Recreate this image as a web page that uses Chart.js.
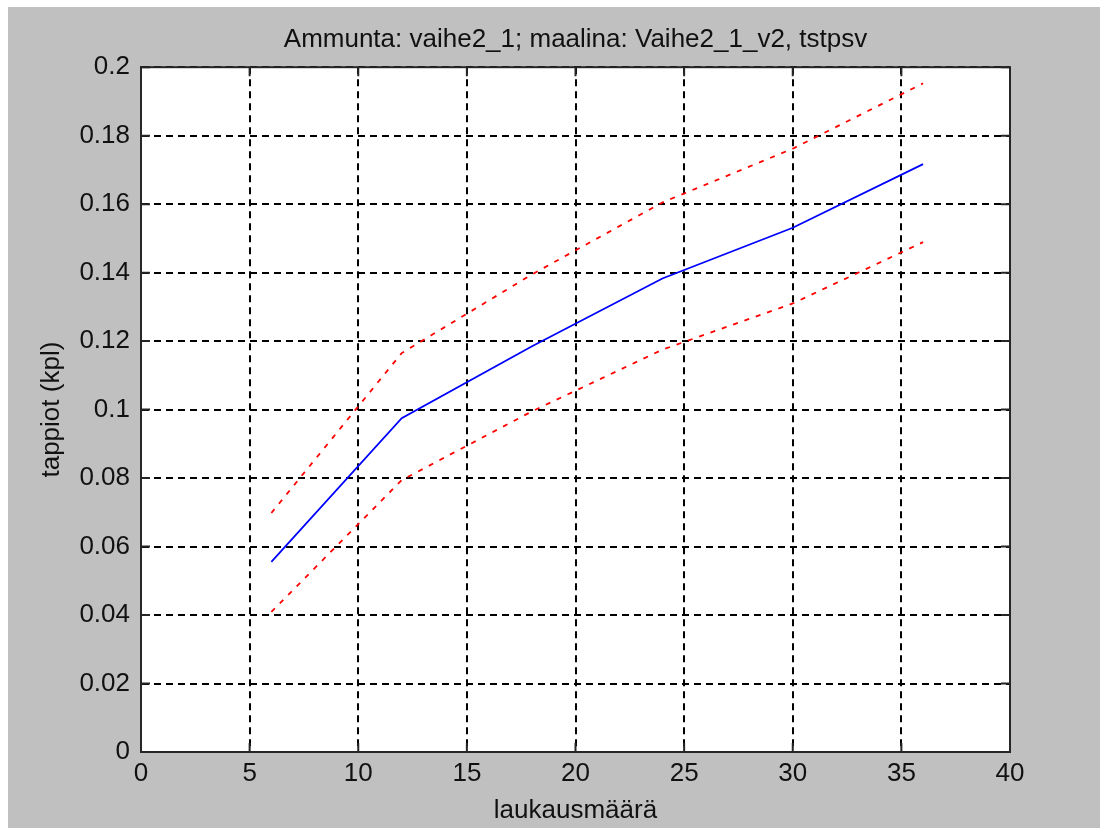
<!DOCTYPE html>
<html>
<head>
<meta charset="utf-8">
<script src="https://cdn.jsdelivr.net/npm/chart.js@4"></script>
<style>
  body { margin: 0; background: #fff; }
  canvas { display: block; }
</style>
</head>
<body>
<canvas id="myChart" width="1100" height="828"></canvas>
<script>
// values
const shots = [6, 12, 18, 24, 30, 36]
const lossMean = [0.0555, 0.0975, 0.1185, 0.1383, 0.1531, 0.1717]
const lossUpper = [0.0698, 0.1165, 0.1395, 0.1605, 0.1762, 0.1953]
const lossLower = [0.0409, 0.0794, 0.0995, 0.1175, 0.1310, 0.1489]

const titleText = 'Ammunta: vaihe2_1; maalina: Vaihe2_1_v2, tstpsv'
const xTitle = 'laukausmäärä'
const yTitle = 'tappiot (kpl)'

const fontFam = '"Liberation Sans", Arial, Helvetica, sans-serif'
const ctx = document.getElementById('myChart')

function pts(ys) {
  return shots.map((x, i) => ({x: x, y: ys[i]}))
}

// gray figure background, white axes box, frame and inward tick marks
const matlabLook = {
  id: 'matlabLook',
  afterLayout(chart) {
    // center the title over the axes box, not the whole canvas
    const tb = chart.titleBlock
    if (tb) {
      tb.left = chart.chartArea.left
      tb.right = chart.chartArea.right
      tb.width = tb.right - tb.left
    }
  },
  beforeDraw(chart) {
    const c = chart.ctx
    const a = chart.chartArea
    c.save()
    c.fillStyle = '#ffffff'
    c.fillRect(0, 0, chart.width, chart.height)
    c.fillStyle = '#c0c0c0'
    c.fillRect(8, 7, chart.width - 8, chart.height - 7)
    c.fillStyle = '#ffffff'
    c.fillRect(a.left, a.top, a.right - a.left, a.bottom - a.top)
    c.restore()
  },
  afterDraw(chart) {
    const c = chart.ctx
    const a = chart.chartArea
    const xs = chart.scales.x
    const ys = chart.scales.y
    const tl = 9
    c.save()
    c.strokeStyle = '#262626'
    c.lineWidth = 2
    c.beginPath()
    for (const t of xs.ticks) {
      const px = xs.getPixelForValue(t.value)
      c.moveTo(px, a.bottom); c.lineTo(px, a.bottom - tl)
      c.moveTo(px, a.top); c.lineTo(px, a.top + tl)
    }
    for (const t of ys.ticks) {
      const py = ys.getPixelForValue(t.value)
      c.moveTo(a.left, py); c.lineTo(a.left + tl, py)
      c.moveTo(a.right, py); c.lineTo(a.right - tl, py)
    }
    c.stroke()
    c.strokeRect(a.left, a.top, a.right - a.left, a.bottom - a.top)
    c.restore()
  }
}

new Chart(ctx, {
  type: 'line',
  data: {
    datasets: [
      {
        label: 'mean',
        data: pts(lossMean),
        borderColor: '#0000ff',
        borderWidth: 1.8,
        pointRadius: 0,
        tension: 0
      },
      {
        label: 'upper',
        data: pts(lossUpper),
        borderColor: '#ff0000',
        borderWidth: 1.8,
        borderDash: [5, 7],
        pointRadius: 0,
        tension: 0
      },
      {
        label: 'lower',
        data: pts(lossLower),
        borderColor: '#ff0000',
        borderWidth: 1.8,
        borderDash: [5, 7],
        pointRadius: 0,
        tension: 0
      }
    ]
  },
  plugins: [matlabLook],
  options: {
    responsive: false,
    animation: false,
    devicePixelRatio: 1,
    layout: {padding: {left: 0, right: 90, top: 0, bottom: 0}},
    plugins: {
      legend: {display: false},
      tooltip: {enabled: false},
      title: {
        display: true,
        text: titleText,
        color: '#111',
        font: {family: fontFam, size: 26, weight: 'normal'},
        padding: {top: 24, bottom: 12}
      }
    },
    scales: {
      x: {
        type: 'linear',
        min: 0,
        max: 40,
        afterFit(scale) { scale.height = 76 },
        ticks: {
          stepSize: 5,
          color: '#111',
          padding: 6,
          font: {family: fontFam, size: 26}
        },
        grid: {
          color: '#000',
          lineWidth: 2,
          drawTicks: false
        },
        border: {display: true, color: '#262626', width: 2, dash: [7, 5]},
        title: {
          display: true,
          text: xTitle,
          color: '#111',
          font: {family: fontFam, size: 26},
          padding: {top: 0, bottom: 2}
        }
      },
      y: {
        min: 0,
        max: 0.2,
        afterFit(scale) { scale.width = 141 },
        ticks: {
          stepSize: 0.02,
          color: '#111',
          padding: 11,
          font: {family: fontFam, size: 26},
          callback: function(v) { return String(Number(v.toFixed(2))) }
        },
        grid: {
          color: '#000',
          lineWidth: 2,
          drawTicks: false
        },
        border: {display: true, color: '#262626', width: 2, dash: [7, 5]},
        title: {
          display: true,
          text: yTitle,
          color: '#111',
          font: {family: fontFam, size: 26},
          padding: {top: 36, bottom: 0}
        }
      }
    }
  }
})
</script>
</body>
</html>
